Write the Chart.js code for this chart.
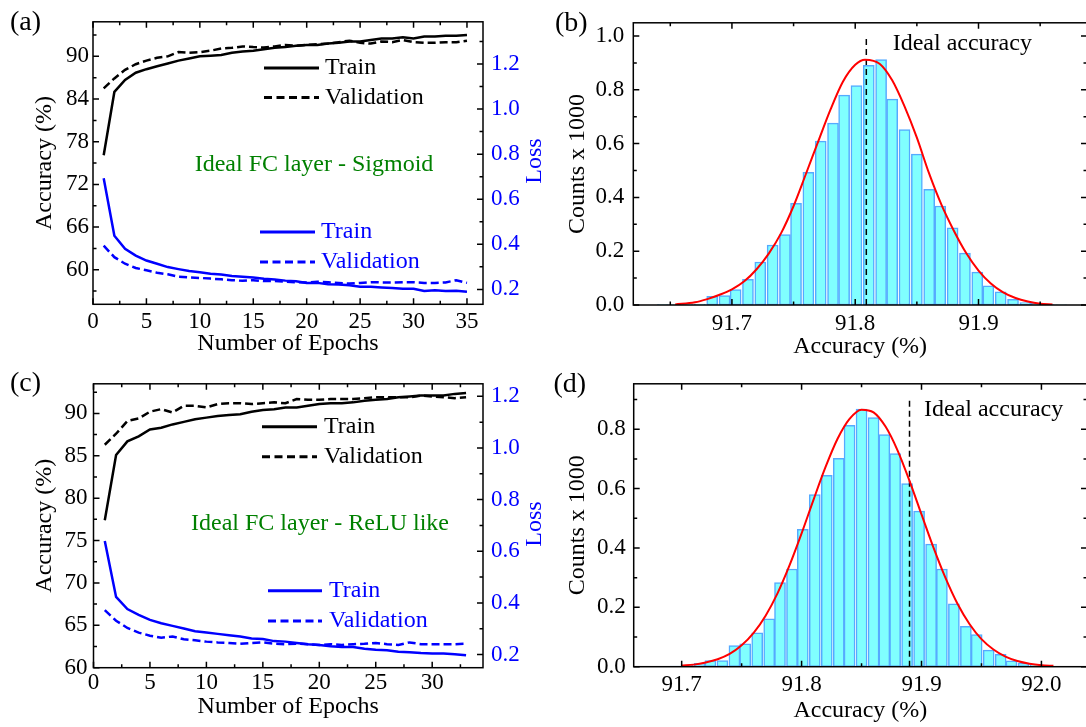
<!DOCTYPE html>
<html lang="en">
<head>
<meta charset="UTF-8" />
<title>Ideal FC layer: training curves and accuracy spread</title>
<style>
  html, body { margin: 0; padding: 0; background: #fff; overflow: hidden; }
  body { position: relative; width: 1086px; height: 727px; }
  canvas { position: absolute; }
  #panelA { left: 0; top: 0; }
  #panelB { left: 543px; top: 0; }
  #panelC { left: 0; top: 362px; }
  #panelD { left: 543px; top: 362px; }
</style>
</head>
<body>
<canvas id="panelA" width="550" height="362"></canvas>
<canvas id="panelC" width="550" height="365"></canvas>
<canvas id="panelB" width="546" height="362"></canvas>
<canvas id="panelD" width="546" height="365"></canvas>

<script src="https://cdn.jsdelivr.net/npm/chart.js"></script>
<script>
// ---- (a) sigmoid: accuracy / loss per epoch ----
const epochsA = [1, 2, 3, 4, 5, 6, 7, 8, 9, 10, 11, 12, 13, 14, 15, 16, 17, 18, 19, 20,
                 21, 22, 23, 24, 25, 26, 27, 28, 29, 30, 31, 32, 33, 34, 35];
const trainAccA = [76.1, 85.0, 86.7, 87.7, 88.2, 88.6, 89.0, 89.4, 89.7, 90.0, 90.1, 90.2, 90.5, 90.7, 90.8, 91.0, 91.2, 91.3,
                   91.5, 91.6, 91.6, 91.8, 91.9, 92.1, 92.1, 92.3, 92.5, 92.5, 92.7, 92.5, 92.8, 92.8, 92.9, 92.9, 93.0];
const valAccA = [85.5, 86.9, 88.1, 88.9, 89.4, 89.8, 90.0, 90.6, 90.5, 90.6, 90.8, 91.1, 91.2, 91.4, 91.3, 91.25, 91.4, 91.6,
                 91.5, 91.6, 91.7, 91.8, 92.0, 92.2, 91.9, 91.8, 92.1, 92.0, 92.3, 92.0, 91.9, 91.9, 92.0, 92.0, 92.2];
const trainLossA = [0.693, 0.438, 0.380, 0.350, 0.328, 0.314, 0.299, 0.290, 0.282, 0.276, 0.270, 0.266, 0.260, 0.256, 0.253, 0.247,
                    0.244, 0.239, 0.236, 0.229, 0.229, 0.223, 0.222, 0.218, 0.212, 0.212, 0.209, 0.206, 0.203, 0.203, 0.193,
                    0.196, 0.193, 0.194, 0.190];
const valLossA = [0.394, 0.343, 0.314, 0.295, 0.285, 0.274, 0.267, 0.256, 0.253, 0.251, 0.248, 0.245, 0.241, 0.238, 0.241, 0.237,
                  0.237, 0.234, 0.232, 0.231, 0.234, 0.232, 0.229, 0.226, 0.229, 0.232, 0.231, 0.231, 0.232, 0.232, 0.229,
                  0.229, 0.231, 0.241, 0.229];
const epochTicksA = [0, 5, 10, 15, 20, 25, 30, 35];
const accTicksA = [60, 66, 72, 78, 84, 90];
const lossTicksA = [0.2, 0.4, 0.6, 0.8, 1.0, 1.2];

// ---- (c) ReLU like: accuracy / loss per epoch ----
const epochsC = [1, 2, 3, 4, 5, 6, 7, 8, 9, 10, 11, 12, 13, 14, 15, 16, 17, 18, 19, 20,
                 21, 22, 23, 24, 25, 26, 27, 28, 29, 30, 31, 32, 33];
const trainAccC = [77.4, 85.1, 86.7, 87.3, 88.1, 88.3, 88.7, 89.0, 89.3, 89.5, 89.7, 89.8, 89.9, 90.2, 90.4, 90.5, 90.7,
                   90.7, 90.9, 91.1, 91.2, 91.2, 91.3, 91.5, 91.6, 91.7, 91.9, 92.0, 92.1, 92.1, 92.1, 92.3, 92.4];
const valAccC = [86.3, 87.6, 89.1, 89.4, 90.2, 90.5, 90.1, 90.9, 90.9, 90.7, 91.1, 91.2, 91.2, 91.1, 91.2, 91.3, 91.2,
                 91.7, 91.6, 91.6, 91.7, 91.7, 91.7, 91.8, 91.9, 91.9, 91.9, 91.9, 92.1, 92.0, 91.9, 91.8, 91.9];
const trainLossC = [0.640, 0.423, 0.376, 0.354, 0.334, 0.321, 0.311, 0.301, 0.290, 0.285, 0.280, 0.275, 0.270, 0.262,
                    0.260, 0.252, 0.250, 0.245, 0.240, 0.237, 0.232, 0.229, 0.229, 0.222, 0.219, 0.217, 0.211, 0.209,
                    0.206, 0.204, 0.204, 0.201, 0.197];
const valLossC = [0.372, 0.331, 0.303, 0.285, 0.273, 0.265, 0.270, 0.259, 0.255, 0.250, 0.247, 0.245, 0.242, 0.245,
                  0.247, 0.242, 0.240, 0.242, 0.240, 0.237, 0.240, 0.237, 0.240, 0.242, 0.245, 0.240, 0.237, 0.247,
                  0.240, 0.240, 0.240, 0.240, 0.242];
const epochTicksC = [0, 5, 10, 15, 20, 25, 30];
const accTicksC = [60, 65, 70, 75, 80, 85, 90];
const lossTicksC = [0.2, 0.4, 0.6, 0.8, 1.0, 1.2];

// ---- (b) accuracy histogram, sigmoid ----
const binsB = [91.644, 91.654, 91.664, 91.674, 91.684, 91.694, 91.703, 91.713, 91.723, 91.733, 91.743, 91.752,
               91.762, 91.772, 91.782, 91.791, 91.801, 91.811, 91.821, 91.830, 91.840, 91.850, 91.860, 91.869,
               91.879, 91.889, 91.899, 91.908, 91.918, 91.928, 91.938, 91.947, 91.957, 91.967];
const countsB = [0.002, 0.002, 0.002, 0.003, 0.032, 0.035, 0.057, 0.095, 0.160, 0.223, 0.262, 0.378,
                 0.493, 0.609, 0.676, 0.780, 0.816, 0.891, 0.912, 0.765, 0.652, 0.561, 0.430, 0.368,
                 0.287, 0.193, 0.122, 0.071, 0.049, 0.021, 0.009, 0.006, 0.002, 0.001];
const fitXB = [91.654, 91.67, 91.68, 91.69, 91.70, 91.71, 91.72, 91.73, 91.74, 91.75, 91.76, 91.77, 91.78, 91.79,
               91.80, 91.808, 91.82, 91.83, 91.84, 91.85, 91.86, 91.87, 91.88, 91.89, 91.90, 91.91, 91.92, 91.93,
               91.94, 91.95, 91.96];
const fitYB = [0.002, 0.010, 0.022, 0.038, 0.058, 0.088, 0.133, 0.192, 0.268, 0.368, 0.487, 0.608, 0.727, 0.830,
               0.893, 0.912, 0.896, 0.835, 0.738, 0.622, 0.488, 0.372, 0.276, 0.193, 0.128, 0.080, 0.047, 0.026,
               0.013, 0.005, 0.002];
const idealB = 91.809;
const accTicksB = [91.7, 91.8, 91.9];
const countTicksB = [0, 0.2, 0.4, 0.6, 0.8, 1.0];

// ---- (d) accuracy histogram, ReLU like ----
const binsD = [91.695, 91.705, 91.715, 91.724, 91.734, 91.744, 91.753, 91.763, 91.773, 91.782, 91.792, 91.801,
               91.811, 91.821, 91.831, 91.840, 91.850, 91.860, 91.869, 91.878, 91.888, 91.898, 91.908, 91.917,
               91.927, 91.937, 91.946, 91.956, 91.966, 91.975, 91.985, 91.995];
const countsD = [0.002, 0.005, 0.011, 0.021, 0.021, 0.071, 0.077, 0.114, 0.161, 0.283, 0.329, 0.463,
                 0.580, 0.645, 0.702, 0.813, 0.868, 0.839, 0.782, 0.718, 0.617, 0.524, 0.413, 0.329,
                 0.212, 0.136, 0.108, 0.056, 0.042, 0.020, 0.012, 0.007];
const fitXD = [91.70, 91.71, 91.72, 91.73, 91.74, 91.75, 91.76, 91.77, 91.78, 91.79, 91.80, 91.81, 91.82, 91.83,
               91.84, 91.85, 91.86, 91.87, 91.88, 91.89, 91.90, 91.91, 91.92, 91.93, 91.94, 91.95, 91.96, 91.97,
               91.98, 91.99, 92.00, 92.01];
const fitYD = [0.004, 0.007, 0.014, 0.025, 0.043, 0.072, 0.114, 0.172, 0.248, 0.342, 0.449, 0.563, 0.673, 0.768,
               0.835, 0.866, 0.857, 0.809, 0.729, 0.626, 0.513, 0.401, 0.299, 0.212, 0.144, 0.093, 0.058, 0.034,
               0.019, 0.010, 0.005, 0.003];
const idealD = 91.89;
const accTicksD = [91.7, 91.8, 91.9, 92.0];
const countTicksD = [0, 0.2, 0.4, 0.6, 0.8];

const FONT = "'Liberation Serif', 'Times New Roman', serif";
const BLUE = '#0000ff';
const GREEN = '#008000';
const RED = '#ff0000';
const CYAN = '#80ffff';
const EDGE = '#55aaff';

Chart.defaults.font.family = FONT;
Chart.defaults.color = '#000';

const pts = (xs, ys) => xs.map((x, i) => ({ x, y: ys[i] }));
const oneDecimal = v => v.toFixed(1);

// box around the plot with inward major/minor ticks
const frameTicks = {
  id: 'frameTicks',
  afterDatasetsDraw(chart, args, opts) {
    const { ctx, chartArea: a } = chart;
    ctx.save();
    ctx.strokeStyle = '#000';
    ctx.lineWidth = 1.5;
    ctx.beginPath();
    for (const { id, sides } of opts.axes) {
      const scale = chart.scales[id];
      const major = scale.ticks.map(t => t.value);
      const half = (major[1] - major[0]) / 2;
      const marks = major.map(v => [v, 6]);
      for (const v of [major[0] - half, ...major.map(m => m + half)]) {
        if (v >= scale.min - 1e-9 && v <= scale.max + 1e-9) marks.push([v, 3.5]);
      }
      for (const [v, len] of marks) {
        const p = scale.getPixelForValue(v);
        for (const side of sides) {
          if (side === 'bottom') { ctx.moveTo(p, a.bottom); ctx.lineTo(p, a.bottom - len); }
          if (side === 'top') { ctx.moveTo(p, a.top); ctx.lineTo(p, a.top + len); }
          if (side === 'left') { ctx.moveTo(a.left, p); ctx.lineTo(a.left + len, p); }
          if (side === 'right') { ctx.moveTo(a.right, p); ctx.lineTo(a.right - len, p); }
        }
      }
    }
    ctx.stroke();
    ctx.strokeRect(a.left, a.top, a.width, a.height);
    ctx.restore();
  }
};

// hand placed legends, captions and panel letters
const notes = {
  id: 'notes',
  afterDraw(chart, args, opts) {
    const ctx = chart.ctx;
    for (const it of opts.items) {
      ctx.save();
      if (it.line) {
        ctx.strokeStyle = it.color || '#000';
        ctx.lineWidth = 3;
        ctx.setLineDash(it.dash ? [8, 4.5] : []);
        ctx.beginPath();
        ctx.moveTo(it.line[0], it.y);
        ctx.lineTo(it.line[1], it.y);
        ctx.stroke();
      }
      ctx.fillStyle = it.color || '#000';
      ctx.font = `${it.size || 24}px ${FONT}`;
      ctx.textAlign = it.align || 'left';
      ctx.textBaseline = 'middle';
      ctx.translate(it.x, it.y);
      if (it.rotate) ctx.rotate(it.rotate);
      ctx.fillText(it.text, 0, 0);
      ctx.restore();
    }
  }
};

function axis(o) {
  return {
    type: 'linear',
    position: o.position,
    min: o.min,
    max: o.max,
    bounds: 'data',
    offset: false,
    grid: { display: false, drawTicks: false },
    border: { display: false },
    afterBuildTicks: s => { s.ticks = o.ticks.map(value => ({ value })); },
    afterFit: s => { if (s.isHorizontal()) s.height = o.size; else s.width = o.size; },
    ticks: {
      autoSkip: false, maxRotation: 0, padding: o.pad, color: o.color || '#000',
      font: { size: 23 }, callback: o.fmt || (v => String(v))
    },
    title: {
      display: !!o.title, text: o.title || '', color: '#000',
      font: { size: 24 }, padding: o.titlePad || 0
    }
  };
}

function trace(data, color, dashed, axisId) {
  return {
    data, yAxisID: axisId, borderColor: color, borderWidth: 2.5,
    borderDash: dashed ? [8, 4] : [], pointRadius: 0, tension: 0, fill: false
  };
}

function legendItems(top, bottom) {
  return [
    { line: top.line, y: top.y[0], text: 'Train', x: top.x },
    { line: top.line, y: top.y[1], dash: true, text: 'Validation', x: top.x },
    { line: bottom.line, y: bottom.y[0], color: BLUE, text: 'Train', x: bottom.x },
    { line: bottom.line, y: bottom.y[1], color: BLUE, dash: true, text: 'Validation', x: bottom.x }
  ];
}

const base = {
  responsive: false,
  animation: false,
  events: []
};

// (a)
new Chart(document.getElementById('panelA'), {
  type: 'line',
  data: {
    datasets: [
      trace(pts(epochsA, trainAccA), '#000', false, 'y'),
      trace(pts(epochsA, valAccA), '#000', true, 'y'),
      trace(pts(epochsA, trainLossA), BLUE, false, 'y2'),
      trace(pts(epochsA, valLossA), BLUE, true, 'y2')
    ]
  },
  options: {
    ...base,
    layout: { padding: { top: 18.3, left: 0, right: 0, bottom: 0 } },
    plugins: {
      legend: { display: false }, tooltip: { enabled: false },
      frameTicks: { axes: [{ id: 'x', sides: ['bottom', 'top'] }, { id: 'y', sides: ['left'] }, { id: 'y2', sides: ['right'] }] },
      notes: {
        items: [
          ...legendItems({ line: [264, 319], y: [68, 97.5], x: 325 }, { line: [260, 315], y: [232, 262], x: 321 }),
          { text: 'Ideal FC layer - Sigmoid', x: 314, y: 165, color: GREEN, align: 'center' },
          { text: '(a)', x: 10, y: 23, size: 28 },
          { text: 'Loss', x: 535, y: 161, color: BLUE, align: 'center', rotate: -Math.PI / 2 }
        ]
      }
    },
    scales: {
      x: axis({ position: 'bottom', min: 0, max: 36.5, ticks: epochTicksA, size: 57.7, pad: 3.4,
                title: 'Number of Epochs', titlePad: { top: 0, bottom: 3.6 } }),
      y: axis({ position: 'left', min: 55.14, max: 94.86, ticks: accTicksA, size: 93, pad: 4,
                title: 'Accuracy (%)', titlePad: { top: 30.6, bottom: 0 } }),
      y2: axis({ position: 'right', min: 0.134, max: 1.387, ticks: lossTicksA, size: 67, pad: 8,
                 color: BLUE, fmt: oneDecimal })
    }
  },
  plugins: [frameTicks, notes]
});

// (c)
new Chart(document.getElementById('panelC'), {
  type: 'line',
  data: {
    datasets: [
      trace(pts(epochsC, trainAccC), '#000', false, 'y'),
      trace(pts(epochsC, valAccC), '#000', true, 'y'),
      trace(pts(epochsC, trainLossC), BLUE, false, 'y2'),
      trace(pts(epochsC, valLossC), BLUE, true, 'y2')
    ]
  },
  options: {
    ...base,
    layout: { padding: { top: 18, left: 0, right: 0, bottom: 0 } },
    plugins: {
      legend: { display: false }, tooltip: { enabled: false },
      frameTicks: { axes: [{ id: 'x', sides: ['bottom', 'top'] }, { id: 'y', sides: ['left'] }, { id: 'y2', sides: ['right'] }] },
      notes: {
        items: [
          ...legendItems({ line: [262, 317], y: [64.7, 94.7], x: 324 }, { line: [268, 322], y: [228.7, 259], x: 329 }),
          { text: 'Ideal FC layer - ReLU like', x: 320, y: 161.3, color: GREEN, align: 'center' },
          { text: '(c)', x: 10, y: 22, size: 28 },
          { text: 'Loss', x: 535, y: 162, color: BLUE, align: 'center', rotate: -Math.PI / 2 }
        ]
      }
    },
    scales: {
      x: axis({ position: 'bottom', min: 0, max: 34.5, ticks: epochTicksC, size: 59.3, pad: 1.5,
                title: 'Number of Epochs', titlePad: { top: 0, bottom: 5.6 } }),
      y: axis({ position: 'left', min: 60, max: 93.49, ticks: accTicksC, size: 93.5, pad: 6,
                title: 'Accuracy (%)', titlePad: { top: 30.6, bottom: 0 } }),
      y2: axis({ position: 'right', min: 0.149, max: 1.2486, ticks: lossTicksC, size: 67, pad: 8,
                 color: BLUE, fmt: oneDecimal })
    }
  },
  plugins: [frameTicks, notes]
});

function histogram(bins, counts, fitX, fitY, ideal, idealTop) {
  return {
    datasets: [
      { type: 'line', data: pts(fitX, fitY), borderColor: RED, borderWidth: 2, pointRadius: 0,
        cubicInterpolationMode: 'monotone', order: 0 },
      { type: 'line', data: [{ x: ideal, y: 0 }, { x: ideal, y: idealTop }], borderColor: '#000',
        borderWidth: 1.5, borderDash: [6, 4], pointRadius: 0, order: 1 },
      { type: 'bar', data: pts(bins, counts), backgroundColor: CYAN, borderColor: EDGE, borderWidth: 1.5,
        borderSkipped: false, barThickness: 11, order: 2 }
    ]
  };
}

// (b)
new Chart(document.getElementById('panelB'), {
  type: 'bar',
  data: histogram(binsB, countsB, fitXB, fitYB, idealB, 1.0),
  options: {
    ...base,
    layout: { padding: { top: 18.3, left: 0, right: 2, bottom: 0 } },
    plugins: {
      legend: { display: false }, tooltip: { enabled: false },
      frameTicks: { axes: [{ id: 'x', sides: ['bottom', 'top'] }, { id: 'y', sides: ['left', 'right'] }] },
      notes: {
        items: [
          { text: 'Ideal accuracy', x: 349.7, y: 43.3 },
          { text: '(b)', x: 12, y: 24, size: 28 }
        ]
      }
    },
    scales: {
      x: axis({ position: 'bottom', min: 91.62, max: 91.988, ticks: accTicksB, size: 57, pad: 4.7,
                fmt: oneDecimal, title: 'Accuracy (%)', titlePad: { top: 0, bottom: 0.6 } }),
      y: axis({ position: 'left', min: 0, max: 1.049, ticks: countTicksB, size: 90.3, pad: 9,
                fmt: oneDecimal, title: 'Counts x 1000', titlePad: { top: 20, bottom: 0 } })
    }
  },
  plugins: [frameTicks, notes]
});

// (d)
new Chart(document.getElementById('panelD'), {
  type: 'bar',
  data: histogram(binsD, countsD, fitXD, fitYD, idealD, 0.9),
  options: {
    ...base,
    layout: { padding: { top: 18.7, left: 0, right: 2, bottom: 0 } },
    plugins: {
      legend: { display: false }, tooltip: { enabled: false },
      frameTicks: { axes: [{ id: 'x', sides: ['bottom', 'top'] }, { id: 'y', sides: ['left', 'right'] }] },
      notes: {
        items: [
          { text: 'Ideal accuracy', x: 381, y: 48 },
          { text: '(d)', x: 10.4, y: 23, size: 28 }
        ]
      }
    },
    scales: {
      x: axis({ position: 'bottom', min: 91.66, max: 92.038, ticks: accTicksD, size: 60.3, pad: 4.5,
                fmt: oneDecimal, title: 'Accuracy (%)', titlePad: { top: 0, bottom: 1.6 } }),
      y: axis({ position: 'left', min: 0, max: 0.953, ticks: countTicksD, size: 90.7, pad: 8,
                fmt: oneDecimal, title: 'Counts x 1000', titlePad: { top: 20, bottom: 0 } })
    }
  },
  plugins: [frameTicks, notes]
});
</script>
</body>
</html>
